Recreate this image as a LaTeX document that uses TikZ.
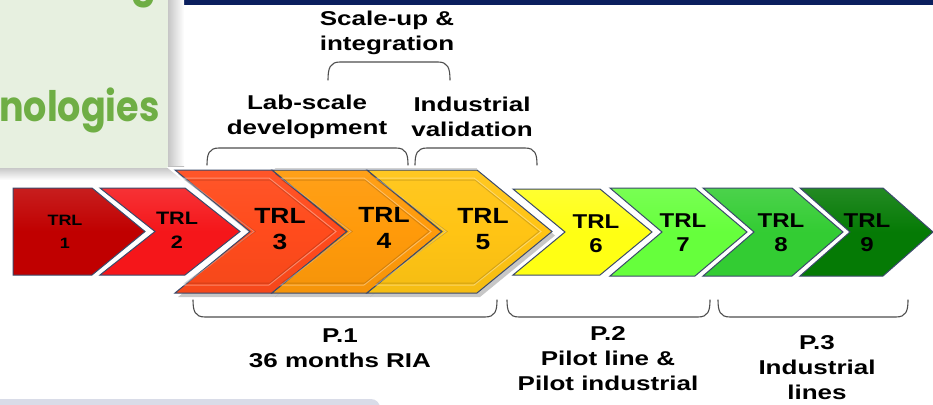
\documentclass[tikz,border=0pt]{standalone}
\usepackage{fontspec}
\setmainfont{Liberation Sans}
\newfontfamily\lblfont{Liberation Sans}[FakeStretch=1.3]
\newfontfamily\trlfont{Liberation Sans}[FakeStretch=1.2]
\newfontfamily\panelfont{Poppins}[FakeStretch=0.87]

\definecolor{trlA}{HTML}{C00000}
\definecolor{trlB}{HTML}{F5161A}
\definecolor{trlC}{HTML}{FF4B1C}
\definecolor{trlD}{HTML}{FF9A0A}
\definecolor{trlE}{HTML}{FFC414}
\definecolor{trlF}{HTML}{FFFF14}
\definecolor{trlG}{HTML}{66FF3C}
\definecolor{trlH}{HTML}{33CC33}
\definecolor{trlI}{HTML}{057A05}
\definecolor{edgecol}{HTML}{3B4A6B}
\definecolor{panelbg}{HTML}{E7F0E0}
\definecolor{panelink}{HTML}{6FAE45}
\definecolor{navyband}{HTML}{0B1F5E}
\definecolor{bracecol}{HTML}{4E4E4E}
\definecolor{bandcol}{HTML}{D9DCE8}

\tikzset{
  lbl/.style={font=\lblfont\bfseries\fontsize{20}{25}\selectfont, align=center, inner sep=0pt, text=black},
  trlsmall/.style={font=\trlfont\bfseries\fontsize{20}{24}\selectfont, align=center, inner sep=0pt, text=black},
  trlbig/.style={font=\trlfont\bfseries\fontsize{22}{26}\selectfont, align=center, inner sep=0pt, text=black},
  brace/.style={draw=bracecol, line width=1.1pt, line cap=round},
  chevedge/.style={draw=edgecol, line width=1pt, line join=miter},
}

% small chevron with white gap around it:
% #1 left x, #2 shoulder x, #3 point depth, #4 top y, #5 bottom y, #6 notch depth, #7 colour
\newcommand\smallchev[7]{%
  \draw[white, line width=5pt, line join=miter] (#1,#4) -- (#2,#4) -- ({#2+#3},{(#4+#5)/2}) -- (#2,#5) -- (#1,#5) -- ({#1+#6},{(#4+#5)/2}) -- cycle;
  \path[chevedge, top color=#7!88!white, bottom color=#7, middle color=#7] (#1,#4) -- (#2,#4) -- ({#2+#3},{(#4+#5)/2}) -- (#2,#5) -- (#1,#5) -- ({#1+#6},{(#4+#5)/2}) -- cycle;
}

% large bevelled chevron with a soft shadow (same arguments)
\newcommand\bigchev[7]{%
  \fill[black, opacity=0.22] ({#1+3},{#4+4}) -- ({#2+3},{#4+4}) -- ({#2+#3+3},{(#4+#5)/2+4}) -- ({#2+3},{#5+4}) -- ({#1+3},{#5+4}) -- ({#1+#6+3},{(#4+#5)/2+4}) -- cycle;
  \path[chevedge, top color=#7!94!white, bottom color=#7!96!black, middle color=#7] (#1,#4) -- (#2,#4) -- ({#2+#3},{(#4+#5)/2}) -- (#2,#5) -- (#1,#5) -- ({#1+#6},{(#4+#5)/2}) -- cycle;
  \draw[white, opacity=0.35, line width=1pt] ({#1+9},{#4+8}) -- ({#2-3},{#4+8}) -- ({#2+#3-11},{(#4+#5)/2}) -- ({#2-3},{#5-8}) -- ({#1+9},{#5-8}) -- ({#1+#6+4},{(#4+#5)/2}) -- cycle;
  \draw[black, opacity=0.15, line width=1pt] ({#1+10},{#4+10}) -- ({#2-2},{#4+10}) -- ({#2+#3-13},{(#4+#5)/2}) -- ({#2-2},{#5-10}) -- ({#1+10},{#5-10}) -- ({#1+#6+5},{(#4+#5)/2}) -- cycle;
}

% rounded square bracket: #1 left x, #2 right x, #3 y of the flat part, #4 y of the ends
\newcommand\bracket[4]{%
  \draw[brace] (#1,#4) .. controls (#1,{#3+0.35*(#4-#3)}) and ({#1+2},#3) .. ({#1+12},#3)
    -- ({#2-12},#3) .. controls ({#2-2},#3) and (#2,{#3+0.35*(#4-#3)}) .. (#2,#4);
}

\begin{document}
\begin{tikzpicture}[x=1pt, y=-1pt]
\useasboundingbox (0,0) rectangle (933,404);
\fill[white] (0,0) rectangle (933,404);

% header band and side panel
\fill[navyband] (184,0) rectangle (933,5);
\shade[left color=gray!50, right color=white] (166,0) rectangle (184,178);
\shade[top color=gray!50, bottom color=white] (0,166) rectangle (184,180);
\fill[panelbg] (0,0) rectangle (168,168);
\draw[gray!35, line width=1.5pt] (184,168.5) -- (477,168.5);
\begin{scope}
  \clip (0,0) rectangle (168,168);
  \node[anchor=base west, inner sep=0pt, font=\panelfont\bfseries\fontsize{42}{42}\selectfont, text=panelink] (techword) at (-1,121) {nologies};
  \node[anchor=base east, inner sep=0pt, font=\panelfont\bfseries\fontsize{42}{42}\selectfont, text=panelink] (gtail) at (157,-3) {g};
\end{scope}

% bottom band
\fill[bandcol, rounded corners=9pt] (-20,399) rectangle (380,430);

% TRL chevrons
\smallchev{13}{92}{53}{188}{275}{0}{trlA}
\smallchev{100}{185}{55}{188}{275}{55}{trlB}
\draw[white, line width=6pt, line join=miter] (175,170) -- (272,170) -- (347,231.5) -- (272,293) -- (175,293) -- (250,231.5) -- cycle;
\bigchev{175}{272}{75}{170}{293}{75}{trlC}
\bigchev{272}{367}{75}{170}{293}{75}{trlD}
\bigchev{367}{477}{75}{170}{293}{75}{trlE}
\smallchev{513}{600}{52}{189}{275}{52}{trlF}
\smallchev{610}{695}{52}{188}{276}{52}{trlG}
\smallchev{703}{792}{51}{188}{276}{51}{trlH}
\smallchev{800}{883}{50}{188}{276}{50}{trlI}

% TRL labels
\node[trlsmall, font=\trlfont\bfseries\fontsize{15}{23}\selectfont] (t1) at (65,232) {TRL\\1};
\node[trlsmall, font=\trlfont\bfseries\fontsize{18}{24}\selectfont] (t2) at (177,230) {TRL\\2};
\node[trlbig] (t3) at (280,229) {TRL\\3};
\node[trlbig] (t4) at (384,228) {TRL\\4};
\node[trlbig] (t5) at (483,229) {TRL\\5};
\node[trlsmall] (t6) at (596,234) {TRL\\6};
\node[trlsmall] (t7) at (683,233) {TRL\\7};
\node[trlsmall] (t8) at (781,233) {TRL\\8};
\node[trlsmall] (t9) at (867,233) {TRL\\9};

% brackets above the chevrons
\bracket{328}{450}{62}{80}
\bracket{207}{408}{148}{165}
\bracket{415}{537}{148}{165}
% brackets below the chevrons
\bracket{193}{497}{317}{300}
\bracket{507}{710}{317}{300}
\bracket{718}{908}{317}{300}

% stage labels
\node[lbl] (scaleup) at (387,33) {Scale-up \&\\integration};
\node[lbl] (labscale) at (307,117) {Lab-scale\\development};
\node[lbl] (indval) at (472,117) {Industrial\\validation};
\node[lbl] (p1) at (340,348) {P.1\\36 months RIA};
\node[lbl] (p2) at (608,359) {P.2\\Pilot line \&\\Pilot industrial};
\node[lbl] (p3) at (817,368) {P.3\\Industrial\\lines};
\end{tikzpicture}
\end{document}
